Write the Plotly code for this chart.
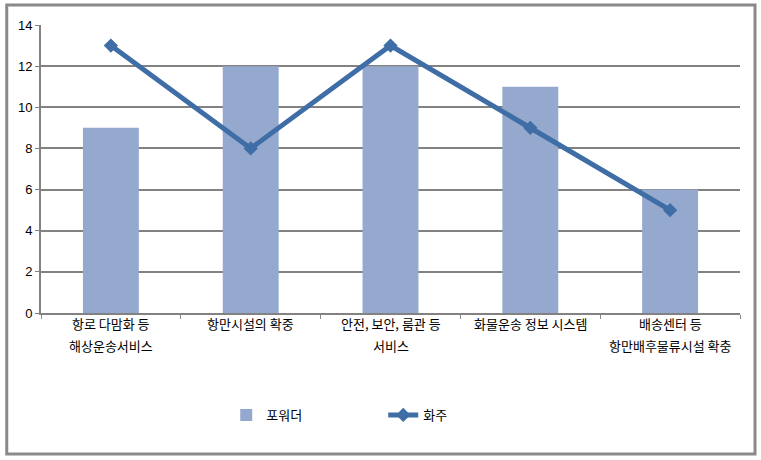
import plotly.graph_objects as go

categories = ["c1", "c2", "c3", "c4", "c5"]
label_line1 = ["항로 다맘화 등", "항만시설의 확중", "안전, 보안, 룸관 등", "화물운송 정보 시스템", "배송센터 등"]
label_line2 = ["해상운송서비스", "", "서비스", "", "항만배후물류시설 확충"]
forwarder = [9, 12, 12, 11, 6]
shipper = [13, 8, 13, 9, 5]

kfont = "Noto Sans CJK KR, Gulim, sans-serif"

fig = go.Figure()
fig.add_trace(go.Bar(
    x=categories, y=forwarder, name="포워더",
    marker=dict(color="#95A9CF", line=dict(width=0)),
))
fig.add_trace(go.Scatter(
    x=categories, y=shipper, name="화주", mode="lines+markers",
    line=dict(color="#3F6DA6", width=5),
    marker=dict(symbol="diamond", size=11, color="#3F6DA6"),
))

annotations = []
for c, l1, l2 in zip(categories, label_line1, label_line2):
    annotations.append(dict(x=c, y=0, xref="x", yref="paper", text=l1, showarrow=False,
                            yshift=-22, font=dict(family=kfont, size=13, color="#000")))
    if l2:
        annotations.append(dict(x=c, y=0, xref="x", yref="paper", text=l2, showarrow=False,
                                yshift=-44, font=dict(family=kfont, size=13, color="#000")))

fig.update_layout(
    width=761, height=460,
    margin=dict(l=41, r=21, t=25, b=147),
    paper_bgcolor="white", plot_bgcolor="white",
    bargap=0.6,
    showlegend=True,
    legend=dict(orientation="h", x=0.265, y=-0.354, xanchor="left", yanchor="middle",
                entrywidth=112, entrywidthmode="pixels", itemwidth=30,
                font=dict(family=kfont, size=13, color="#000")),
    annotations=annotations,
    shapes=[dict(type="rect", xref="paper", yref="paper",
                 x0=-0.049, x1=1.0215, y0=-0.4896, y1=1.0694,
                 line=dict(color="#8A8A8A", width=3), fillcolor="rgba(0,0,0,0)", layer="below")],
    xaxis=dict(showticklabels=False, tickson="boundaries", ticks="outside", ticklen=4,
               tickcolor="#8A8A8A", tickwidth=1, showgrid=False, showline=True,
               linecolor="#828282", linewidth=2, zeroline=False),
    yaxis=dict(range=[0, 14], dtick=2, ticks="outside", ticklen=4, tickcolor="#828282",
               showgrid=True, gridcolor="#828282", gridwidth=2, showline=True,
               linecolor="#828282", linewidth=2, zeroline=False,
               tickfont=dict(family="Liberation Sans, Arial", size=13, color="#000")),
)

fig.write_html("out.html")
